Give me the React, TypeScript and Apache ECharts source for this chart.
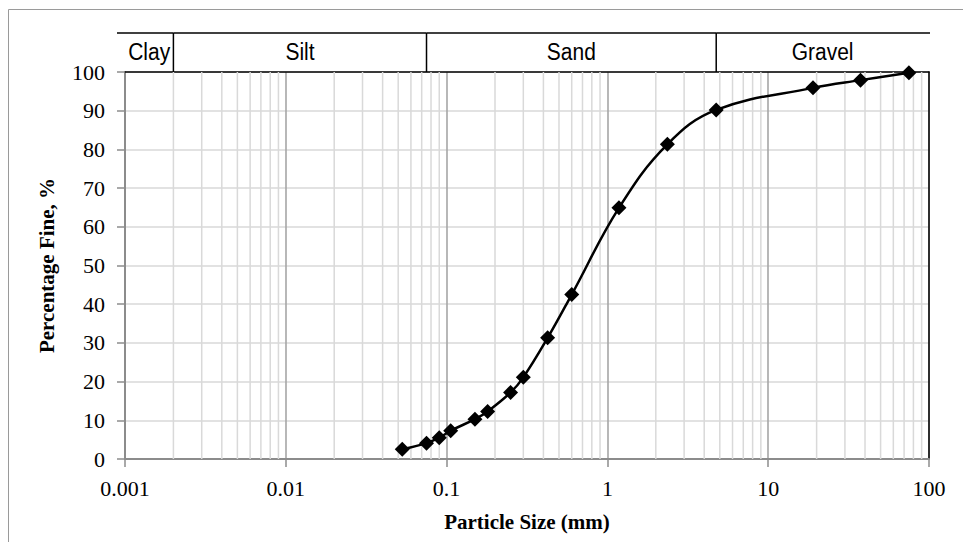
import React, { useEffect, useRef } from "react";
import * as echarts from "echarts";

// Particle size (mm) and percentage passing
const particleSizes = [0.053, 0.075, 0.09, 0.106, 0.15, 0.18, 0.25, 0.3, 0.425, 0.6, 1.18, 2.36, 4.75, 19, 37.5, 75];
const percentFine = [2.5, 4.1, 5.5, 7.3, 10.3, 12.3, 17.2, 21.1, 31.3, 42.5, 64.9, 81.3, 90.2, 95.9, 97.9, 99.8];

const xTickLabels = ["0.001", "0.01", "0.1", "1", "10", "100"];
const yTickLabels = ["0", "10", "20", "30", "40", "50", "60", "70", "80", "90", "100"];

// soil classification bands
const bandNames = ["Clay", "Silt", "Sand", "Gravel"];
const bandStarts = [0.001, 0.002, 0.075, 4.75];
const bandEnds = [0.002, 0.075, 4.75, 100];

// minor log gridlines
const decades = [0.001, 0.01, 0.1, 1, 10];
const minorMultipliers = [2, 3, 4, 5, 6, 7, 8, 9];

export default function App() {
  const ref = useRef<HTMLDivElement>(null);

  useEffect(() => {
    document.body.style.margin = "0";
    if (!ref.current) return;
    const chart = echarts.init(ref.current, null, { renderer: "svg" });

    const minorValues: number[][] = [];
    decades.forEach((d) => minorMultipliers.forEach((m) => minorValues.push([d * m, 0])));

    const serif = "'Liberation Serif', 'Times New Roman', serif";
    const sans = "'Liberation Sans', Arial, sans-serif";

    chart.setOption({
      animation: false,
      backgroundColor: "#ffffff",
      graphic: [
        {
          type: "rect",
          silent: true,
          shape: { x: 8.5, y: 9.5, width: 1100, height: 700 },
          style: { fill: "none", stroke: "#9a9a9a", lineWidth: 1 },
        },
      ],
      grid: { left: 125, right: 34, top: 72, bottom: 83, containLabel: false },
      xAxis: [
        {
          type: "log",
          logBase: 10,
          min: 0.001,
          max: 100,
          position: "bottom",
          axisLine: { show: true, onZero: false, lineStyle: { color: "#8c8c8c", width: 2 } },
          axisTick: { show: true, length: 8, lineStyle: { color: "#8c8c8c", width: 1.5 } },
          axisLabel: {
            fontFamily: serif,
            fontSize: 22,
            color: "#000",
            margin: 18,
            formatter: (v: number) => xTickLabels[Math.round(Math.log10(v) + 3)] ?? "",
          },
          splitLine: { show: true, lineStyle: { color: "#a6a6a6", width: 1.6 } },
          name: "Particle Size (mm)",
          nameLocation: "middle",
          nameGap: 52,
          nameTextStyle: { fontFamily: serif, fontSize: 21, fontWeight: "bold", color: "#000" },
        },
        {
          type: "log",
          logBase: 10,
          min: 0.001,
          max: 100,
          position: "top",
          axisLine: { show: true, onZero: false, lineStyle: { color: "#000", width: 1.5 } },
          axisTick: { show: false },
          axisLabel: { show: false },
          splitLine: { show: false },
        },
      ],
      yAxis: [
        {
          type: "value",
          min: 0,
          max: 100,
          interval: 10,
          axisLine: { show: true, onZero: false, lineStyle: { color: "#8c8c8c", width: 2 } },
          axisTick: { show: true, length: 8, lineStyle: { color: "#8c8c8c", width: 1.5 } },
          axisLabel: {
            fontFamily: serif,
            fontSize: 22,
            color: "#000",
            margin: 20,
            formatter: (v: number) => yTickLabels[Math.round(v / 10)] ?? "",
          },
          splitLine: { show: true, lineStyle: { color: "#d9d9d9", width: 1.5 } },
          name: "Percentage Fine, %",
          nameLocation: "middle",
          nameGap: 68,
          nameRotate: 90,
          nameTextStyle: { fontFamily: serif, fontSize: 21, fontWeight: "bold", color: "#000" },
        },
        {
          type: "value",
          min: 0,
          max: 100,
          position: "right",
          axisLine: { show: true, onZero: false, lineStyle: { color: "#000", width: 1.5 } },
          axisTick: { show: false },
          axisLabel: { show: false },
          splitLine: { show: false },
        },
      ],
      series: [
        {
          type: "custom",
          z: 1,
          silent: true,
          clip: false,
          data: minorValues,
          renderItem: (params: any, api: any) => {
            const x = api.value(0);
            const top = api.coord([x, 100]);
            const bot = api.coord([x, 0]);
            return {
              type: "line",
              shape: { x1: top[0], y1: top[1], x2: bot[0], y2: bot[1] },
              style: { stroke: "#d9d9d9", lineWidth: 1.5 },
            };
          },
        },
        {
          type: "custom",
          z: 4,
          silent: true,
          clip: false,
          data: bandNames.map((n, i) => [bandStarts[i], bandEnds[i], i]),
          renderItem: (params: any, api: any) => {
            const i = api.value(2);
            const p1 = api.coord([api.value(0), 100]);
            const p2 = api.coord([api.value(1), 100]);
            const bandH = 39;
            const children: any[] = [
              {
                type: "line",
                shape: {
                  x1: p1[0] - (i === 0 ? 8 : 0),
                  y1: p1[1] - bandH,
                  x2: p2[0] + (i === bandNames.length - 1 ? 1 : 0),
                  y2: p1[1] - bandH,
                },
                style: { stroke: "#000", lineWidth: 1.5 },
              },
              {
                type: "text",
                x: (p1[0] + p2[0]) / 2,
                y: p1[1] - 20,
                scaleY: 1.12,
                style: {
                  text: bandNames[i],
                  x: 0,
                  y: 0,
                  align: "center",
                  verticalAlign: "middle",
                  font: `21px ${sans}`,
                  fill: "#000",
                },
              },
            ];
            if (i < bandNames.length - 1) {
              children.push({
                type: "line",
                shape: { x1: p2[0], y1: p1[1] - bandH, x2: p2[0], y2: p1[1] },
                style: { stroke: "#000", lineWidth: 1.5 },
              });
            }
            return { type: "group", children };
          },
        },
        {
          type: "line",
          z: 5,
          data: particleSizes.map((s, i) => [s, percentFine[i]]),
          smooth: 0.4,
          symbol: "diamond",
          symbolSize: 15,
          itemStyle: { color: "#000" },
          lineStyle: { color: "#000", width: 2.5 },
        },
      ],
    });

    return () => chart.dispose();
  }, []);

  return <div ref={ref} style={{ width: 963, height: 542 }} />;
}
